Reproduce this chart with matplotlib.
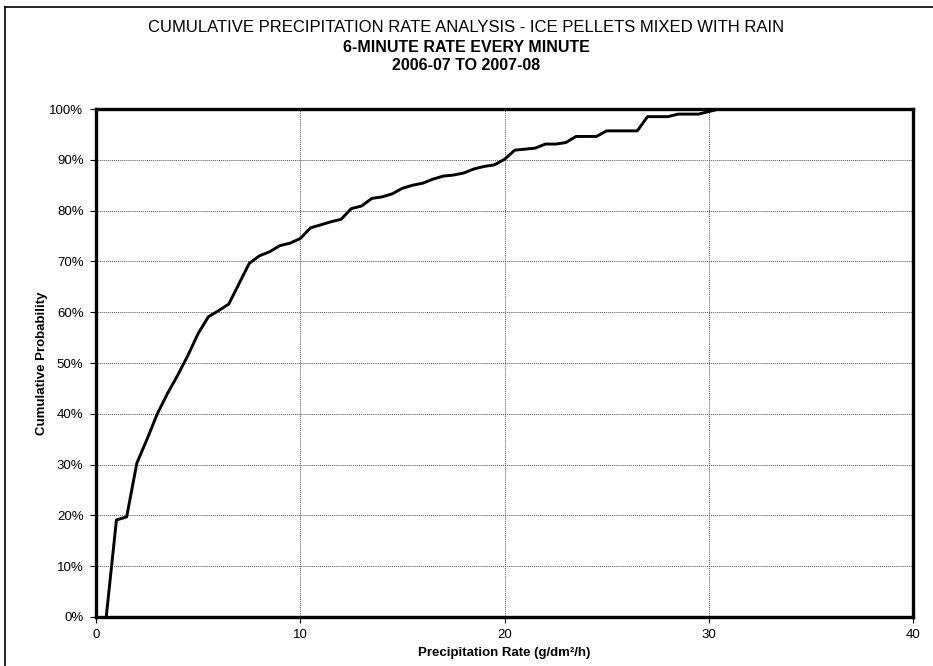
import matplotlib
matplotlib.use("Agg")
import matplotlib.pyplot as plt
from matplotlib.lines import Line2D
from matplotlib.ticker import FuncFormatter

# precipitation rate (g/dm2/h) and cumulative probability (%)
rate = [0.5, 1.0, 1.5, 2.0, 2.5, 3.0, 3.5, 4.0, 4.5, 5.0,
        5.5, 6.0, 6.5, 7.0, 7.5, 8.0, 8.5, 9.0, 9.5, 10.0,
        10.5, 11.0, 11.5, 12.0, 12.5, 13.0, 13.5, 14.0, 14.5, 15.0,
        15.5, 16.0, 16.5, 17.0, 17.5, 18.0, 18.5, 19.0, 19.5, 20.0,
        20.5, 21.0, 21.5, 22.0, 22.5, 23.0, 23.5, 24.0, 24.5, 25.0,
        25.5, 26.0, 26.5, 27.0, 27.5, 28.0, 28.5, 29.0, 29.5, 30.0, 30.5]
prob = [0.0, 19.1, 19.7, 30.3, 35.0, 40.0, 44.0, 47.6, 51.5, 55.8,
        59.1, 60.3, 61.6, 65.6, 69.6, 71.1, 71.9, 73.1, 73.6, 74.5,
        76.6, 77.2, 77.8, 78.3, 80.4, 80.9, 82.4, 82.7, 83.3, 84.4,
        85.0, 85.4, 86.2, 86.8, 87.0, 87.4, 88.2, 88.7, 89.0, 90.1,
        91.9, 92.1, 92.3, 93.1, 93.1, 93.4, 94.6, 94.6, 94.6, 95.7,
        95.7, 95.7, 95.7, 98.5, 98.5, 98.5, 99.0, 99.0, 99.0, 99.5, 100.0]

plt.rcParams['font.family'] = ['Liberation Sans', 'DejaVu Sans']

fig = plt.figure(figsize=(9.33, 6.66), dpi=100)
ax = fig.add_axes([0.1029, 0.0736, 0.8757, 0.7627])

ax.plot(rate, prob, color='black', linewidth=2.1, zorder=3)

ax.set_xlim(0, 40)
ax.set_ylim(0, 100)
ax.set_xticks([0, 10, 20, 30, 40])
ax.set_yticks(range(0, 101, 10))
ax.yaxis.set_major_formatter(FuncFormatter(lambda v, p: f"{v:.0f}%"))
ax.tick_params(direction='out', length=4, width=0.8, labelsize=9.5, pad=5)
ax.grid(True, color='#555555', linestyle=(0, (1, 1)), linewidth=0.7)

for s in ax.spines.values():
    s.set_linewidth(2.4)
    s.set_color('black')

ax.set_xlabel("Precipitation Rate (g/dm²/h)", fontsize=9.5, fontweight='bold', labelpad=4)
ax.set_ylabel("Cumulative Probability", fontsize=9.5, fontweight='bold', labelpad=1)

fig.text(0.5, 1 - 28 / 666, "CUMULATIVE PRECIPITATION RATE ANALYSIS - ICE PELLETS MIXED WITH RAIN",
         ha='center', va='center', fontsize=12)
fig.text(0.5, 1 - 47 / 666, "6-MINUTE RATE EVERY MINUTE",
         ha='center', va='center', fontsize=11.5, fontweight='bold')
fig.text(0.5, 1 - 66 / 666, "2006-07 TO 2007-08",
         ha='center', va='center', fontsize=11.5, fontweight='bold')

# outer chart frame
fig.add_artist(Line2D([5 / 933, 5 / 933], [0, 1 - 7 / 666], transform=fig.transFigure,
                      color='black', linewidth=1.2))
fig.add_artist(Line2D([5 / 933, 1], [1 - 7 / 666, 1 - 7 / 666], transform=fig.transFigure,
                      color='black', linewidth=1.2))

fig.savefig("out.png", dpi=100)
